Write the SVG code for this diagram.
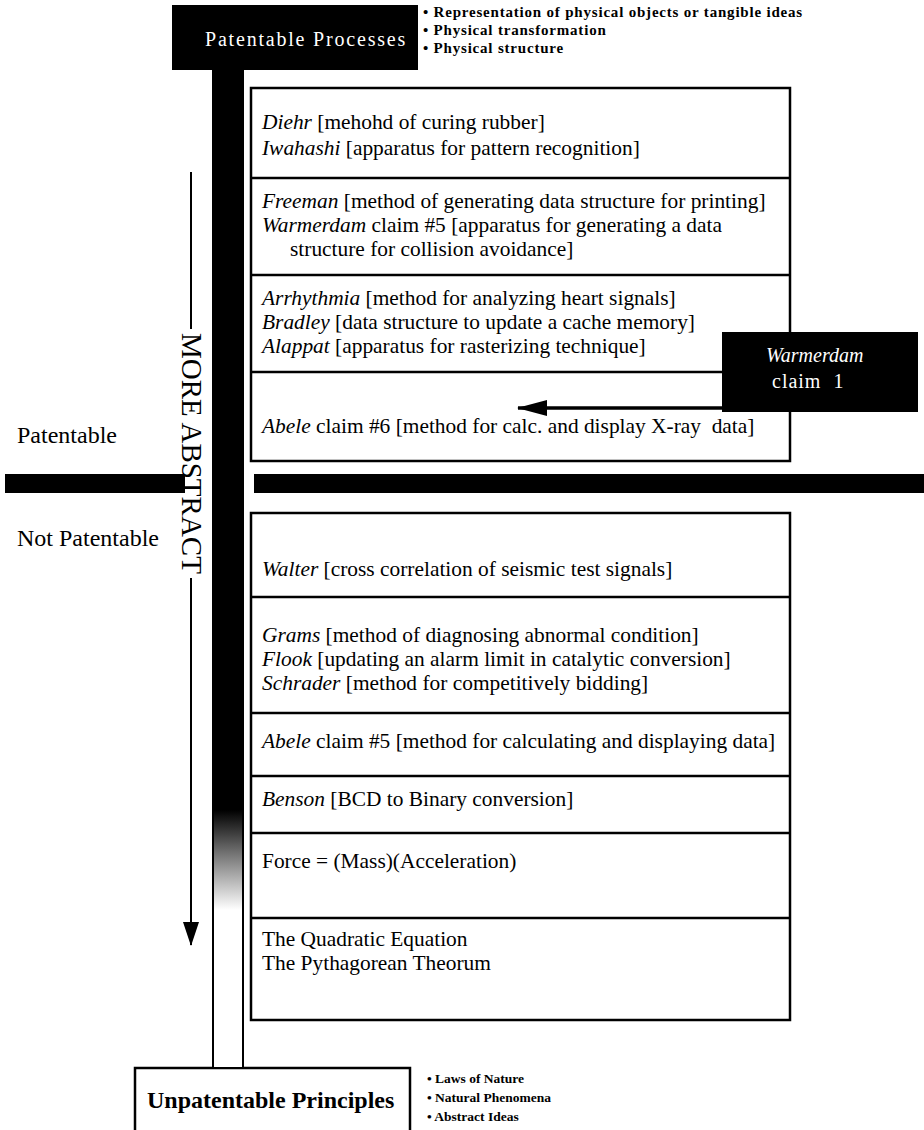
<svg xmlns="http://www.w3.org/2000/svg" width="924" height="1130" viewBox="0 0 924 1130">
<style>
.t{font-family:"Liberation Serif","Times New Roman",serif;font-size:21.4px;fill:#000}
.i{font-style:italic}
.b{font-family:"Liberation Serif","Times New Roman",serif;font-size:15px;font-weight:bold;letter-spacing:0.8px;fill:#000}
.bs{font-family:"Liberation Serif","Times New Roman",serif;font-size:13.5px;font-weight:bold;fill:#000}
.lab{font-family:"Liberation Serif","Times New Roman",serif;font-size:24px;fill:#000}
.box{fill:#fff;stroke:#000;stroke-width:2.5}
.div{stroke:#000;stroke-width:2.5}
</style>
<defs>
<linearGradient id="fade" gradientUnits="userSpaceOnUse" x1="0" y1="810" x2="0" y2="910">
<stop offset="0" stop-color="#000"/>
<stop offset="0.45" stop-color="#777"/>
<stop offset="1" stop-color="#fff"/>
</linearGradient>
<marker id="bigHead" viewBox="0 0 30 16" markerWidth="30" markerHeight="16" refX="29" refY="8" orient="auto" markerUnits="userSpaceOnUse">
<path d="M0,0 L30,8 L0,16 z" fill="#000"/>
</marker>
<marker id="downHead" viewBox="0 0 24 16" markerWidth="24" markerHeight="16" refX="23" refY="8" orient="auto" markerUnits="userSpaceOnUse">
<path d="M0,0 L24,8 L0,16 z" fill="#000"/>
</marker>
</defs>

<g id="patentable-processes">
<rect x="172" y="5" width="246" height="65" fill="#000"/>
<text x="205" y="46" style="font-family:'Liberation Serif','Times New Roman',serif;font-size:20px;letter-spacing:1.8px;fill:#fff">Patentable Processes</text>
<text class="b" x="423" y="17">• Representation of physical objects or tangible ideas</text>
<text class="b" x="423" y="35">• Physical transformation</text>
<text class="b" x="423" y="53">• Physical structure</text>
</g>

<g id="patentable-box">
<rect class="box" x="251" y="88" width="539" height="373"/>
<line class="div" x1="251" y1="178" x2="790" y2="178"/>
<line class="div" x1="251" y1="275" x2="790" y2="275"/>
<line class="div" x1="251" y1="372" x2="790" y2="372"/>
<text class="t" x="262" y="129"><tspan class="i">Diehr</tspan> [mehohd of curing rubber]</text>
<text class="t" x="262" y="155"><tspan class="i">Iwahashi</tspan> [apparatus for pattern recognition]</text>
<text class="t" x="262" y="208"><tspan class="i">Freeman</tspan> [method of generating data structure for printing]</text>
<text class="t" x="262" y="232"><tspan class="i">Warmerdam</tspan> claim #5 [apparatus for generating a data</text>
<text class="t" x="290" y="256">structure for collision avoidance]</text>
<text class="t" x="262" y="305"><tspan class="i">Arrhythmia</tspan> [method for analyzing heart signals]</text>
<text class="t" x="262" y="329"><tspan class="i">Bradley</tspan> [data structure to update a cache memory]</text>
<text class="t" x="262" y="353"><tspan class="i">Alappat</tspan> [apparatus for rasterizing technique]</text>
<text class="t" x="262" y="433" xml:space="preserve"><tspan class="i">Abele</tspan> claim #6 [method for calc. and display X-ray  data]</text>
</g>

<g id="warmerdam-claim1">
<rect x="722" y="332" width="196" height="80" fill="#000"/>
<text x="766" y="362" style="font-family:'Liberation Serif','Times New Roman',serif;font-size:20px;font-style:italic;fill:#fff">Warmerdam</text>
<text x="772" y="388" xml:space="preserve" style="font-family:'Liberation Serif','Times New Roman',serif;font-size:20px;letter-spacing:1px;fill:#fff">claim  1</text>
</g>

<g id="patent-labels">
<text class="lab" x="17" y="443">Patentable</text>
<text class="lab" x="17" y="546">Not Patentable</text>
</g>

<g id="unpatentable-box">
<rect class="box" x="251" y="513" width="539" height="507"/>
<line class="div" x1="251" y1="597" x2="790" y2="597"/>
<line class="div" x1="251" y1="713" x2="790" y2="713"/>
<line class="div" x1="251" y1="776" x2="790" y2="776"/>
<line class="div" x1="251" y1="833" x2="790" y2="833"/>
<line class="div" x1="251" y1="918" x2="790" y2="918"/>
<text class="t" x="262" y="576"><tspan class="i">Walter</tspan> [cross correlation of seismic test signals]</text>
<text class="t" x="262" y="642"><tspan class="i">Grams</tspan> [method of diagnosing abnormal condition]</text>
<text class="t" x="262" y="666"><tspan class="i">Flook</tspan> [updating an alarm limit in catalytic conversion]</text>
<text class="t" x="262" y="690"><tspan class="i">Schrader</tspan> [method for competitively bidding]</text>
<text class="t" x="262" y="748"><tspan class="i">Abele</tspan> claim #5 [method for calculating and displaying data]</text>
<text class="t" x="262" y="806"><tspan class="i">Benson</tspan> [BCD to Binary conversion]</text>
<text class="t" x="262" y="868">Force = (Mass)(Acceleration)</text>
<text class="t" x="262" y="946">The Quadratic Equation</text>
<text class="t" x="262" y="970">The Pythagorean Theorum</text>
</g>

<g id="unpatentable-principles">
<rect class="box" x="135" y="1068" width="275" height="70"/>
<text x="147" y="1108" style="font-family:'Liberation Serif','Times New Roman',serif;font-size:24px;font-weight:bold;fill:#000">Unpatentable Principles</text>
<text class="bs" x="427" y="1083">• Laws of Nature</text>
<text class="bs" x="427" y="1102">• Natural Phenomena</text>
<text class="bs" x="427" y="1121">• Abstract Ideas</text>
</g>

<g id="connectors">
<rect id="abstraction-bar" x="213" y="70" width="30" height="998" fill="url(#fade)" stroke="#000" stroke-width="2"/>
<rect id="divide-left" x="5" y="474" width="180" height="19" fill="#000"/>
<rect id="divide-right" x="254" y="474" width="670" height="19" fill="#000"/>
<line x1="191" y1="172" x2="191" y2="329" stroke="#000" stroke-width="2"/>
<line x1="191" y1="578" x2="191" y2="945" stroke="#000" stroke-width="2" marker-end="url(#downHead)"/>
<line x1="722" y1="408" x2="518" y2="408" stroke="#000" stroke-width="3.5" marker-end="url(#bigHead)"/>
</g>

<text class="lab" transform="translate(182,333) rotate(90)" style="font-size:29px">MORE ABSTRACT</text>
</svg>
